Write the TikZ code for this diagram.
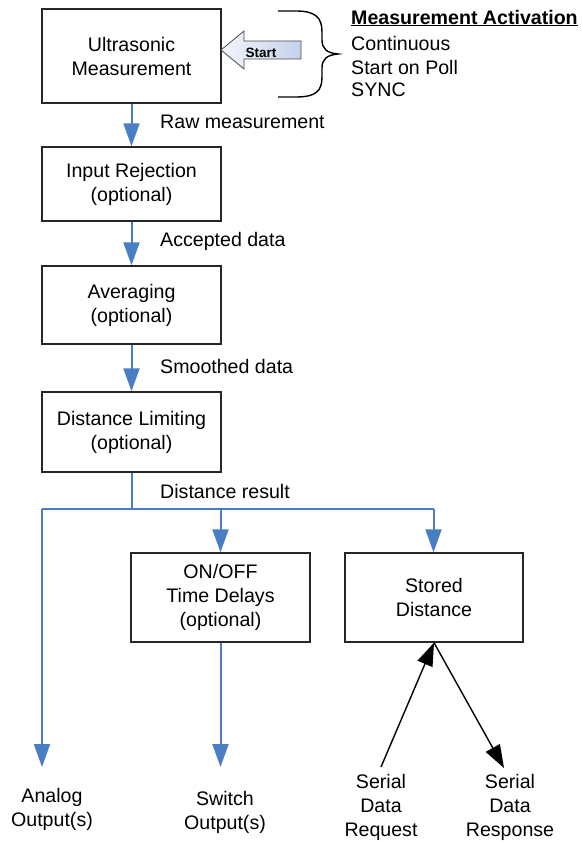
\documentclass[tikz,border=0pt]{standalone}
\usepackage{fontspec}
\setmainfont{Liberation Sans}
\usetikzlibrary{arrows.meta}
\definecolor{flow}{HTML}{4A7EC4}
\definecolor{startl}{HTML}{F2F4FC}
\definecolor{startr}{HTML}{C4D2EC}
\newcommand\mainfs{\fontsize{19.6}{24}\selectfont}
\begin{document}
\begin{tikzpicture}[x=1pt,y=-1pt,
  box/.style={draw=black!85, line width=1.4pt, align=center, inner sep=0pt, font=\mainfs},
  bigbox/.style={box, minimum width=179, minimum height=76},
  lbl/.style={anchor=west, inner sep=0pt, font=\mainfs},
  outlbl/.style={align=center, inner sep=0pt, font=\mainfs},
  flowline/.style={draw=flow, line width=2pt},
  flowarrow/.style={flowline, -{Triangle[length=23pt,width=16pt]}},
  blackarrow/.style={draw=black, line width=1.4pt, -{Triangle[length=23pt,width=16pt]}}
]
\useasboundingbox[fill=white] (0,0) rectangle (581,842);

% main chain
\node[box, minimum width=179, minimum height=94] (b1) at (131.5,56) {Ultrasonic\\Measurement};
\node[bigbox, minimum height=74] (b2) at (131.5,184) {Input Rejection\\(optional)};
\node[bigbox, minimum height=78] (b3) at (131.5,305) {Averaging\\(optional)};
\node[bigbox, minimum height=80] (b4) at (131.5,432) {Distance Limiting\\(optional)};

\draw[flowarrow] (b1.south) -- (b2.north);
\draw[flowarrow] (b2.south) -- (b3.north);
\draw[flowarrow] (b3.south) -- (b4.north);

\node[lbl] (l1) at (160,122) {Raw measurement};
\node[lbl] (l2) at (160,241) {Accepted data};
\node[lbl] (l3) at (160,366) {Smoothed data};
\node[lbl] (l4) at (160,491) {Distance result};

% branch
\coordinate (j) at (131.5,509);
\coordinate (jl) at (42,509);
\coordinate (jm) at (220.5,509);
\coordinate (jr) at (433.5,509);
\coordinate (aend) at (42,767);
\coordinate (send) at (220.5,767);

\node[box, minimum width=179, minimum height=89] (onoff) at (220.5,597.5) {ON/OFF\\Time Delays\\(optional)};
\node[box, minimum width=178, minimum height=89] (stored) at (434,597.5) {Stored\\Distance};

\draw[flowline] (b4.south) -- (j);
\draw[flowline] (jl) -- (jr);
\draw[flowarrow] (jl) -- (aend);
\draw[flowarrow] (jm) -- (onoff.north);
\draw[flowarrow] (jr) -- (jr |- stored.north);
\draw[flowarrow] (onoff.south) -- (send);

\node[outlbl] (analog) at (52,809) {Analog\\Output(s)};
\node[outlbl] (switch) at (225,812) {Switch\\Output(s)};
\node[outlbl] (req) at (381,807) {Serial\\Data\\Request};
\node[outlbl] (resp) at (510,807) {Serial\\Data\\Response};

\coordinate (reqs) at (381,767);
\coordinate (respe) at (504,768);
\draw[blackarrow] (reqs) -- (stored.south);
\draw[blackarrow] (stored.south) -- (respe);

% start arrow
\draw[draw=black!70, line width=0.8pt, left color=startl, right color=startr]
  (221,50) -- (244,31) -- (244,41) -- (301,41) -- (301,59) -- (244,59) -- (244,69) -- cycle;
\node[inner sep=0pt, font=\fontsize{13.5}{16}\selectfont\bfseries] (start) at (261,53) {Start};

% brace
\draw[line width=1.4pt, black]
  (278,11) -- (296,11) .. controls (316,11) and (322,18) .. (322,32)
  -- (322,40) .. controls (322,49) and (327,53) .. (338,54)
  .. controls (327,55) and (322,59) .. (322,68)
  -- (322,77) .. controls (322,91) and (316,97) .. (296,97) -- (278,97);

% activation text
\node[anchor=west, inner sep=0pt, font=\mainfs\bfseries] (ma) at (351,18) {\underline{Measurement Activation}};
\node[lbl] (c1) at (351,43) {Continuous};
\node[lbl] (c2) at (351,67) {Start on Poll};
\node[lbl] (c3) at (351,90) {SYNC};
\end{tikzpicture}
\end{document}
